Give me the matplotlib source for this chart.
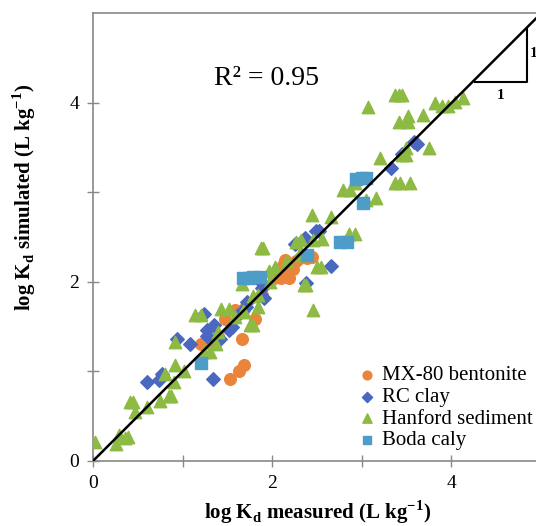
import matplotlib
matplotlib.use('Agg')
import matplotlib.pyplot as plt

plt.rcParams['font.family'] = ['Liberation Serif', 'DejaVu Serif']
plt.rcParams['mathtext.fontset'] = 'custom'
plt.rcParams['mathtext.rm'] = 'Liberation Serif'
plt.rcParams['mathtext.bf'] = 'Liberation Serif:bold'

# MX-80 bentonite
mx_x = [1.53, 1.63, 1.69, 1.66, 1.81, 1.20, 1.26, 1.32, 1.39, 1.47, 1.58, 1.69, 1.89, 2.02,
        2.12, 2.16, 2.19, 2.23, 2.27, 2.31, 2.35, 2.39, 2.44, 2.14, 2.18, 2.10]
mx_y = [0.92, 1.00, 1.07, 1.36, 1.59, 1.31, 1.32, 1.35, 1.40, 1.59, 1.69, 1.70, 1.85, 2.04,
        2.19, 2.12, 2.04, 2.15, 2.23, 2.27, 2.30, 2.27, 2.28, 2.25, 2.08, 2.04]

# RC clay
rc_x = [0.60, 0.74, 0.77, 0.94, 1.08, 1.24, 1.27, 1.27, 1.35, 1.34, 1.42, 1.52, 1.55, 1.62,
        1.72, 1.71, 1.89, 1.91, 1.87, 1.89, 2.25, 2.37, 2.49, 2.52, 2.38, 2.66, 3.32, 3.45,
        3.58, 3.61]
rc_y = [0.88, 0.91, 0.97, 1.36, 1.31, 1.64, 1.40, 1.46, 1.52, 0.92, 1.36, 1.46, 1.50, 1.63,
        1.78, 1.72, 1.93, 1.82, 1.85, 1.99, 2.42, 2.49, 2.57, 2.57, 1.99, 2.18, 3.27, 3.43,
        3.56, 3.54]

# Hanford sediment
hf_x = [0.02, 0.26, 0.29, 0.36, 0.39, 0.41, 0.45, 0.47, 0.60, 0.75, 0.85, 0.87, 0.90, 0.80,
        0.92, 1.02, 0.92, 1.14, 1.21, 1.24, 1.31, 1.37, 1.39, 1.43, 1.52, 1.58, 1.67, 1.69,
        1.66, 1.75, 1.79, 1.84, 1.79, 1.84, 1.87, 1.90, 1.96, 1.97, 2.03, 2.16, 2.27, 2.32,
        2.30, 2.35, 2.38, 2.46, 2.44, 2.50, 2.54, 2.46, 2.56, 2.66, 2.86, 2.92, 2.79, 2.87,
        2.92, 3.05, 3.16, 3.20, 3.37, 3.43, 3.54, 3.07, 3.37, 3.42, 3.45, 3.42, 3.51, 3.52,
        3.45, 3.49, 3.49, 3.68, 3.75, 3.82, 3.89, 3.96, 4.04, 4.13]
hf_y = [0.21, 0.19, 0.29, 0.26, 0.27, 0.66, 0.66, 0.55, 0.60, 0.67, 0.73, 0.73, 0.88, 0.97,
        1.07, 1.00, 1.33, 1.63, 1.63, 1.22, 1.22, 1.31, 1.44, 1.70, 1.70, 1.61, 1.67, 1.66,
        1.98, 1.52, 1.52, 1.72, 1.84, 1.85, 2.38, 2.38, 2.12, 2.00, 2.17, 2.23, 2.45, 2.47,
        2.30, 1.97, 1.97, 1.69, 2.75, 2.17, 2.17, 2.47, 2.48, 2.72, 2.53, 2.53, 3.03, 3.03,
        3.11, 2.91, 2.94, 3.38, 3.11, 3.11, 3.10, 3.95, 4.09, 4.09, 4.09, 3.79, 3.79, 3.85,
        3.42, 3.42, 3.50, 3.86, 3.50, 4.00, 3.96, 3.96, 4.01, 4.06]

# Boda caly
bd_x = [1.21, 1.67, 1.74, 1.79, 1.86, 2.39, 2.76, 2.83, 3.01, 2.93, 3.00, 3.05]
bd_y = [1.09, 2.04, 2.04, 2.05, 2.05, 2.30, 2.45, 2.45, 2.88, 3.15, 3.16, 3.16]

fig = plt.figure(figsize=(5.36, 5.26), dpi=100)
ax = fig.add_axes([0.1735, 0.1236, 0.836, 0.851])

ax.plot([0, 5], [0, 5], color='black', lw=1.8, zorder=5)
# 1:1 slope triangle
ax.plot([4.26, 4.84, 4.84], [4.23, 4.23, 4.82], color='black', lw=1.5, zorder=5)
ax.text(4.55, 4.16, '1', fontsize=11, fontweight='bold', ha='center', va='top')
ax.text(4.87, 4.55, '1', fontsize=11, fontweight='bold', ha='left', va='center')

ax.scatter(mx_x, mx_y, s=70, marker='o', color='#E9843A', label='MX-80 bentonite', zorder=3)
ax.scatter(rc_x, rc_y, s=48, marker='D', color='#4A68C0', label='RC clay', zorder=3)
ax.scatter(hf_x, hf_y, s=80, marker='^', color='#8DBA43', label='Hanford sediment', zorder=3)
ax.scatter(bd_x, bd_y, s=68, marker='s', color='#4E9DC8', label='Boda caly', zorder=3)

ax.text(1.35, 4.27, 'R² = 0.95', fontsize=20, ha='left', va='center')

ax.set_xlim(0, 5)
ax.set_ylim(0, 5)
ax.set_xticks([0, 1, 2, 3, 4])
ax.set_yticks([0, 1, 2, 3, 4])
ax.set_xticklabels(['0', '', '2', '', '4'])
ax.set_yticklabels(['0', '', '2', '', '4'])
ax.tick_params(direction='inout', length=8, width=1, color='#888888', labelsize=14,
               pad=6)
for s in ['left', 'bottom', 'top', 'right']:
    ax.spines[s].set_color('#888888')
    ax.spines[s].set_linewidth(1.2)

ax.set_xlabel(r'log K$_{\mathbf{d}}$ measured (L kg$^{\mathbf{-1}}$)', fontsize=15,
              fontweight='bold', labelpad=5)
ax.set_ylabel(r'log K$_{\mathbf{d}}$ simulated (L kg$^{\mathbf{-1}}$)', fontsize=15,
              fontweight='bold')
ax.yaxis.set_label_coords(-0.122, 0.588)

ax.legend(loc='lower left', bbox_to_anchor=(0.565, 0.005), frameon=False, fontsize=15,
          handletextpad=0.1, labelspacing=0.1, borderaxespad=0, scatterpoints=1,
          markerscale=0.75, handlelength=1.2)

fig.savefig('out.png', dpi=100)
